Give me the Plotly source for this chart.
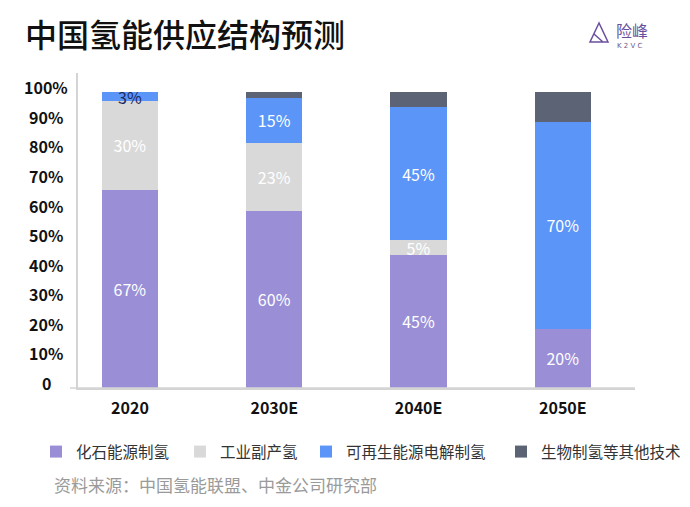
import plotly.graph_objects as go

categories = ["2020", "2030E", "2040E", "2050E"]
series_names = ["化石能源制氢", "工业副产氢", "可再生能源电解制氢", "生物制氢等其他技术"]
fossil = [67, 60, 45, 20]
industrial = [30, 23, 5, 0]
renewable = [3, 15, 45, 70]
other = [0, 2, 5, 10]
fossil_labels = ["67%", "60%", "45%", "20%"]
industrial_labels = ["30%", "23%", "5%", ""]
renewable_labels = ["3%", "15%", "45%", "70%"]
other_labels = ["", "", "", ""]
y_tick_vals = [0, 10, 20, 30, 40, 50, 60, 70, 80, 90, 100]
y_tick_text = ["0", "10%", "20%", "30%", "40%", "50%", "60%", "70%", "80%", "90%", "100%"]

colors = ["#9a8fd6", "#d9d9d9", "#5b95f7", "#5c6374"]
label_colors = [
    ["#ffffff"] * 4,
    ["#ffffff"] * 4,
    ["#1e2a5e", "#ffffff", "#ffffff", "#ffffff"],
    ["#ffffff"] * 4,
]

CJK = "Noto Sans CJK SC"

# page body has an 8px margin: work in window pixels, convert to figure pixels
OFF = 8
W, H = 690 - 2 * OFF, 507 - 2 * OFF
L = 78 - OFF
T = 73 - OFF
R = W - (635 - OFF)
B = H - (388 - OFF)
pw, ph = W - L - R, H - T - B


def px_x(x):
    return (x - OFF - L) / pw


def px_y(y):
    return 1 - (y - OFF - T) / ph


# one legend box per series so each entry sits where the reference has it
legend_ids = ["legend", "legend2", "legend3", "legend4"]
legend_text_x = [73, 217, 343, 538]

fig = go.Figure()
for name, lid, vals, labels, col, lc in zip(
    series_names, legend_ids,
    [fossil, industrial, renewable, other],
    [fossil_labels, industrial_labels, renewable_labels, other_labels],
    colors,
    label_colors,
):
    fig.add_trace(go.Bar(
        x=categories, y=vals, name=name, legend=lid,
        marker=dict(color=col, line=dict(width=0)),
        text=labels, textposition="inside", insidetextanchor="middle",
        constraintext="none", textangle=0,
        textfont=dict(family=CJK, size=16, color=lc),
        width=0.39, hoverinfo="skip",
    ))

annotations = []
for v, t in zip(y_tick_vals, y_tick_text):
    annotations.append(dict(
        x=0, xref="paper", y=v, yref="y", text=t, showarrow=False,
        xanchor="center", yanchor="middle", xshift=-32, yshift=5,
        font=dict(family=CJK, size=16, color="#111111", weight="bold"),
    ))
annotations += [
    dict(x=px_x(23), y=px_y(33), xref="paper", yref="paper", text="中国氢能供应结构预测",
         showarrow=False, xanchor="left", yanchor="middle",
         font=dict(family=CJK, size=32, color="#111111", weight=500)),
    dict(x=px_x(52), y=px_y(484), xref="paper", yref="paper",
         text="资料来源：中国氢能联盟、中金公司研究部",
         showarrow=False, xanchor="left", yanchor="middle",
         font=dict(family=CJK, size=17, color="#9a9a9a")),
    dict(x=px_x(614), y=px_y(30), xref="paper", yref="paper", text="险峰",
         showarrow=False, xanchor="left", yanchor="middle",
         font=dict(family=CJK, size=16, color="#6a4f9e")),
    dict(x=px_x(615), y=px_y(46), xref="paper", yref="paper", text="K 2 V C",
         showarrow=False, xanchor="left", yanchor="middle",
         font=dict(family="DejaVu Sans", size=7, color="#6a5a8e")),
]

shapes = [
    dict(type="line", xref="paper", yref="paper",
         x0=px_x(70), x1=1, y0=0, y1=0, line=dict(color="#d4d4d4", width=1.5)),
    dict(type="path", xref="paper", yref="paper",
         path=(f"M {px_x(599)} {px_y(23)} L {px_x(590)} {px_y(42)} L {px_x(608)} {px_y(42)} Z "
               f"M {px_x(594)} {px_y(34)} L {px_x(603)} {px_y(42)}"),
         line=dict(color="#6a4f9e", width=1.5)),
]

legend_layout = {}
for lid, tx in zip(legend_ids, legend_text_x):
    legend_layout[lid] = dict(
        orientation="h", x=px_x(tx - 37), xanchor="left", y=px_y(452), yanchor="middle",
        font=dict(family=CJK, size=15.5, color="#333333"),
        itemwidth=30, itemclick=False, itemdoubleclick=False,
        bgcolor="rgba(0,0,0,0)",
    )

fig.update_layout(
    width=W, height=H, barmode="stack",
    margin=dict(l=L, r=R, t=T, b=B, autoexpand=False),
    paper_bgcolor="white", plot_bgcolor="white",
    showlegend=True,
    xaxis=dict(
        type="category", range=[-0.36, 3.5], showgrid=False, zeroline=False,
        showline=True, linecolor="#d4d4d4", linewidth=1.5,
        ticks="", ticklabelstandoff=5,
        tickfont=dict(family=CJK, size=16, color="#111111", weight="bold"),
        fixedrange=True,
    ),
    yaxis=dict(
        range=[0, 106.5], showgrid=False, zeroline=False,
        showline=True, linecolor="#d4d4d4", linewidth=1.5,
        tickvals=y_tick_vals, showticklabels=False, ticks="",
        fixedrange=True,
    ),
    annotations=annotations,
    shapes=shapes,
    **legend_layout,
)

fig.write_html("out.html", config={"displayModeBar": False})
